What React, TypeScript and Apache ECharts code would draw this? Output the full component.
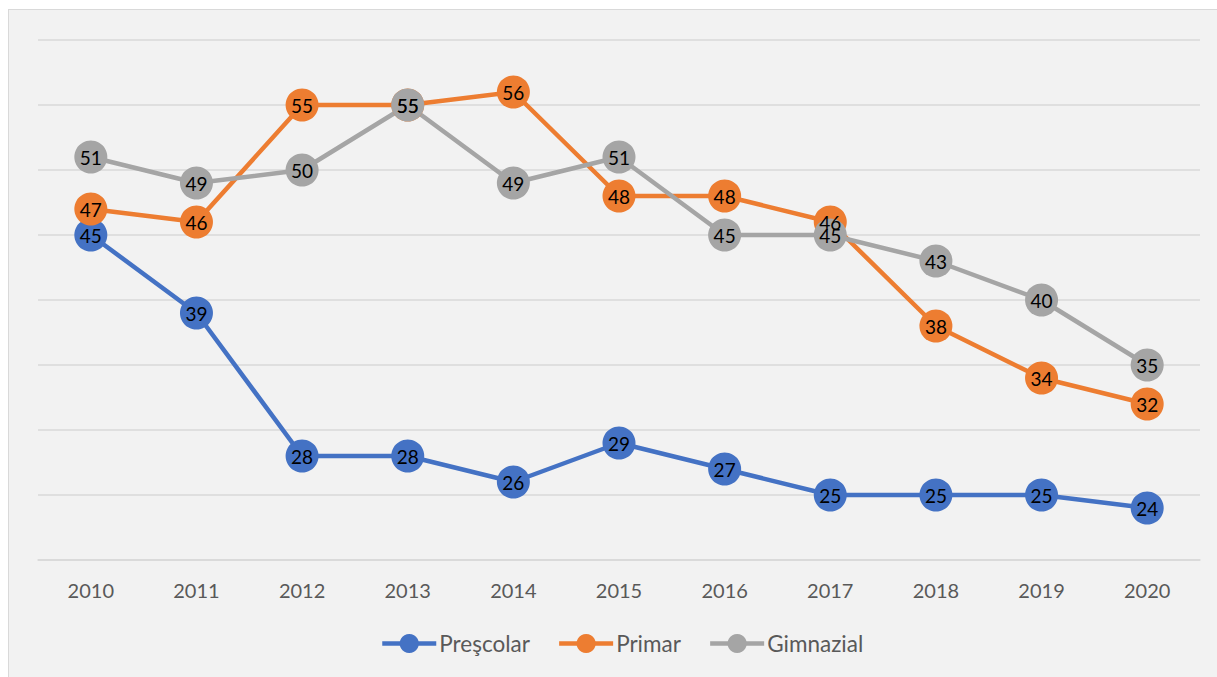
import React, { useEffect, useRef } from "react";
import * as echarts from "echarts";

const categories = ["2010", "2011", "2012", "2013", "2014", "2015", "2016", "2017", "2018", "2019", "2020"];
const prescolar = [45, 39, 28, 28, 26, 29, 27, 25, 25, 25, 24];
const primar = [47, 46, 55, 55, 56, 48, 48, 46, 38, 34, 32];
const gimnazial = [51, 49, 50, 55, 49, 51, 45, 45, 43, 40, 35];

const FONT = "Lato, 'Open Sans', sans-serif";

export default function App() {
  const ref = useRef<HTMLDivElement>(null);
  useEffect(() => {
    document.body.style.margin = "0";
    const chart = echarts.init(ref.current!, null, { renderer: "svg" });
    const mk = (name: string, data: number[], color: string) => ({
      name,
      type: "line",
      data,
      symbol: "circle",
      symbolSize: 33,
      lineStyle: { width: 4.5, color },
      itemStyle: { color },
      label: {
        show: true,
        position: "inside",
        color: "#000",
        fontSize: 19,
        fontFamily: FONT,
      },
    });
    chart.setOption({
      animation: false,
      backgroundColor: "transparent",
      grid: { left: 38, right: 17, top: 40, bottom: 117 },
      legend: {
        bottom: 17,
        left: 375,
        itemWidth: 54,
        itemHeight: 24,
        itemGap: 27,
        lineStyle: { width: 4.5 },
        textStyle: { fontSize: 22.5, color: "#595959", fontFamily: FONT, padding: [0, 0, 0, -2] },
        data: ["Preşcolar", "Primar", "Gimnazial"],
      },
      xAxis: {
        type: "category",
        data: categories,
        boundaryGap: true,
        axisLine: { show: true, lineStyle: { color: "#d9d9d9", width: 1.5 } },
        axisTick: { show: false },
        axisLabel: { color: "#595959", fontSize: 20, fontFamily: FONT, margin: 20 },
      },
      yAxis: {
        type: "value",
        min: 20,
        max: 60,
        interval: 5,
        axisLabel: { show: false },
        axisLine: { show: false },
        axisTick: { show: false },
        splitLine: { lineStyle: { color: "#d9d9d9", width: 1.5 } },
      },
      series: [
        mk("Preşcolar", prescolar, "#4472c4"),
        mk("Primar", primar, "#ed7d31"),
        mk("Gimnazial", gimnazial, "#a5a5a5"),
      ],
    });
    return () => chart.dispose();
  }, []);
  return (
    <div style={{ position: "relative", width: 1217, height: 677, background: "#fff", overflow: "hidden" }}>
      <div
        style={{
          position: "absolute",
          left: 8,
          top: 9,
          width: 1217,
          height: 677,
          background: "#f2f2f2",
          border: "1px solid #d9d9d9",
        }}
      />
      <div ref={ref} style={{ position: "absolute", left: 0, top: 0, width: 1217, height: 677 }} />
    </div>
  );
}
